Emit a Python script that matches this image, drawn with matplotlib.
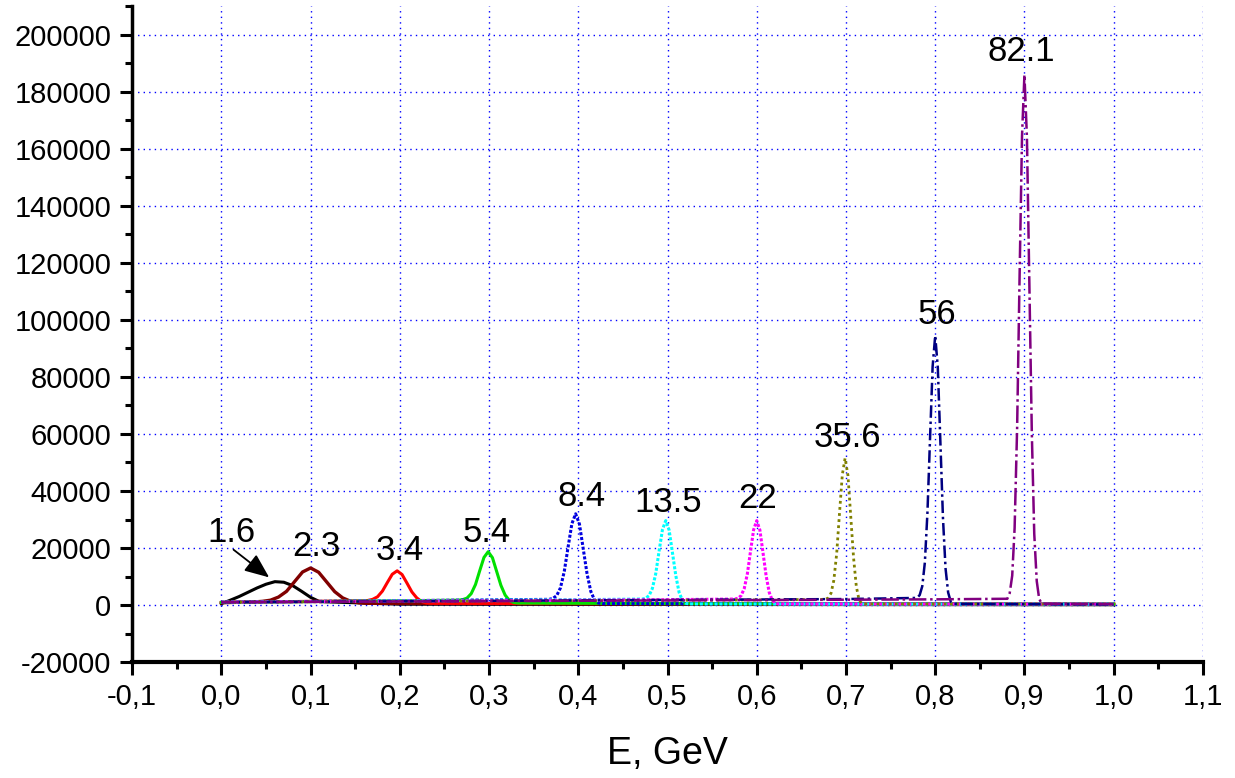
import matplotlib.pyplot as plt
from matplotlib.ticker import MultipleLocator, FuncFormatter

plt.rcParams['font.family'] = ['Liberation Sans', 'DejaVu Sans']

# peak curves, E in GeV and counts
x_16 = [0.0, 0.01, 0.02, 0.03, 0.04, 0.05, 0.06, 0.07, 0.08, 0.09, 0.10, 0.11, 0.2, 0.5, 1.0]
y_16 = [500, 1700, 3000, 4500, 6000, 7300, 8200, 8000, 6800, 4800, 2700, 1200, 300, 200, 100]

x_23 = [0.0, 0.02, 0.037, 0.046, 0.055, 0.064, 0.073, 0.082, 0.091, 0.1, 0.109, 0.118,
        0.127, 0.136, 0.145, 0.154, 0.163, 0.3, 1.0]
y_23 = [800, 1000, 1100, 1300, 1700, 2800, 4800, 8200, 11600, 13000, 11500, 8100,
        4700, 2500, 1300, 800, 600, 500, 300]

x_34 = [0.0, 0.1, 0.1585, 0.164, 0.1695, 0.175, 0.1805, 0.186, 0.1915, 0.197, 0.2025, 0.208,
        0.2135, 0.219, 0.2245, 0.230, 0.2355, 0.4, 1.0]
y_34 = [900, 1300, 1500, 1600, 2000, 2900, 4900, 7900, 10800, 12000, 10700, 7700,
        4600, 2500, 1200, 700, 600, 500, 300]

x_54 = [0.0, 0.2, 0.2658, 0.2705, 0.2753, 0.28, 0.2848, 0.2895, 0.2943, 0.299, 0.3038, 0.3085,
        0.3133, 0.318, 0.3228, 0.3275, 0.3323, 0.5, 1.0]
y_54 = [900, 1500, 1700, 1900, 2450, 4000, 7200, 12000, 16700, 18700, 16600, 11800,
        6900, 3500, 1600, 900, 700, 500, 300]

x_84 = [0.0, 0.3, 0.3673, 0.3715, 0.3758, 0.38, 0.3843, 0.3885, 0.3928, 0.397, 0.4013, 0.4055,
        0.4098, 0.414, 0.4183, 0.4225, 0.4268, 0.6, 1.0]
y_84 = [1000, 1800, 2000, 2300, 3300, 6000, 11800, 20200, 28500, 32000, 28400, 19800,
        11000, 4800, 1700, 700, 500, 400, 300]

x_135 = [0.0, 0.4, 0.4718, 0.4755, 0.4793, 0.483, 0.4868, 0.4905, 0.4943, 0.498, 0.5018, 0.5055,
         0.5093, 0.513, 0.5168, 0.5205, 0.5243, 0.7, 1.0]
y_135 = [1000, 1900, 2100, 2400, 3300, 5800, 11000, 18800, 26400, 29600, 26300, 18400,
         10300, 4400, 1600, 600, 400, 350, 300]

x_22 = [0.0, 0.5, 0.5755, 0.579, 0.5825, 0.586, 0.5895, 0.593, 0.5965, 0.6, 0.6035, 0.607,
        0.6105, 0.614, 0.6175, 0.621, 0.6245, 0.8, 1.0]
y_22 = [1000, 1900, 2100, 2400, 3300, 5800, 11000, 18800, 26400, 29600, 26300, 18400,
        10300, 4400, 1600, 600, 400, 350, 300]

x_356 = [0.0, 0.6, 0.677, 0.6801, 0.6833, 0.6864, 0.6896, 0.6927, 0.6959, 0.699, 0.7022, 0.7053,
         0.7085, 0.7116, 0.7148, 0.7179, 0.7211, 0.85, 1.0]
y_356 = [1000, 1800, 2000, 2500, 4200, 8700, 18100, 32000, 45700, 51500, 45500, 31300,
         16600, 6500, 1600, 500, 400, 350, 300]

x_56 = [0.0, 0.7, 0.7797, 0.7826, 0.7855, 0.7884, 0.7913, 0.7942, 0.7971, 0.8, 0.8029, 0.8058,
        0.8087, 0.8116, 0.8145, 0.8174, 0.8203, 0.9, 1.0]
y_56 = [1000, 2100, 2500, 3500, 6600, 14900, 32400, 58300, 83600, 94500, 83400, 57200,
        30500, 12800, 4400, 1200, 400, 300, 200]

x_821 = [0.0, 0.8, 0.8808, 0.8835, 0.8863, 0.889, 0.8918, 0.8945, 0.8973, 0.9, 0.9028, 0.9055,
         0.9083, 0.911, 0.9138, 0.9165, 0.9193, 0.95, 1.0]
y_821 = [1000, 2000, 2200, 4200, 10300, 27000, 62000, 114000, 164500, 186000, 164000, 113000,
         60000, 25000, 8400, 2200, 500, 400, 300]

labels = ['1.6', '2.3', '3.4', '5.4', '8.4', '13.5', '22', '35.6', '56', '82.1']
label_x = [0.0112, 0.1065, 0.2, 0.2975, 0.404, 0.5005, 0.6015, 0.7015, 0.802, 0.897]
label_y = [25300, 20400, 19300, 25300, 37900, 36100, 37200, 58600, 102000, 194000]

xs = [x_16, x_23, x_34, x_54, x_84, x_135, x_22, x_356, x_56, x_821]
ys = [y_16, y_23, y_34, y_54, y_84, y_135, y_22, y_356, y_56, y_821]
colors = ['black', '#800000', 'red', '#00e000', '#0000e0', 'cyan', 'magenta', '#808000', '#000080', '#800080']
styles = ['-', '-', '-', '-', (0, (1, 0.6)), (0, (1, 0.6)), (0, (1, 0.6)), (0, (1, 1.2)),
          (0, (5, 1.5, 1, 1.5)), (0, (7, 1.5, 1, 1.5))]
widths = [2.2, 2.4, 2.2, 2.2, 2.2, 2.2, 2.2, 2.0, 1.8, 1.8]

fig = plt.figure(figsize=(12.35, 7.78), dpi=100)
ax = fig.add_axes([0.107, 0.149, 0.867, 0.843])

for x, y, c, ls, w in zip(xs, ys, colors, styles, widths):
    ax.plot(x, y, color=c, linestyle=ls, lw=w)

for t, tx, ty in zip(labels, label_x, label_y):
    ax.text(tx, ty, t, ha='center', va='center', fontsize=25)

ax.annotate('', xy=(0.056, 9100), xytext=(0.0112, 20000),
            arrowprops=dict(arrowstyle='-|>,head_length=0.6,head_width=0.25', color='black',
                            lw=1.3, mutation_scale=25))

ax.set_xlim(-0.1, 1.1)
ax.set_ylim(-20000, 210000)
ax.xaxis.set_major_locator(MultipleLocator(0.1))
ax.xaxis.set_minor_locator(MultipleLocator(0.05))
ax.yaxis.set_major_locator(MultipleLocator(20000))
ax.yaxis.set_minor_locator(MultipleLocator(10000))
ax.xaxis.set_major_formatter(FuncFormatter(lambda v, p: ('%.1f' % v).replace('.', ',').replace('-0,0', '0,0')))
ax.yaxis.set_major_formatter(FuncFormatter(lambda v, p: '%d' % round(v)))

ax.grid(True, which='major', color='blue', linestyle=(0, (1, 3)), lw=1)
ax.spines['top'].set_visible(False)
ax.spines['right'].set_visible(False)
ax.spines['left'].set_linewidth(2.5)
ax.spines['bottom'].set_linewidth(3)
ax.tick_params(which='major', direction='out', length=9, width=2.2, labelsize=21, pad=6)
ax.tick_params(which='minor', direction='out', length=5, width=2.2)

ax.set_xlabel('E, GeV', fontsize=27, labelpad=18)

fig.savefig('out.png', dpi=100)
